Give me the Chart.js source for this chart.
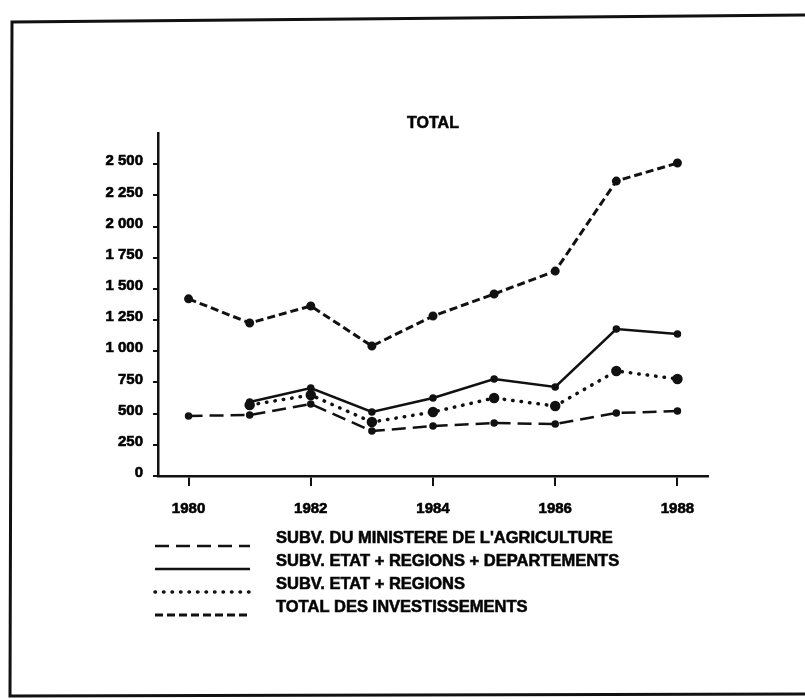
<!DOCTYPE html>
<html>
<head>
<meta charset="utf-8">
<script src="https://cdn.jsdelivr.net/npm/chart.js@4/dist/chart.umd.min.js"></script>
<style>
  html, body { margin: 0; padding: 0; background: #fff; }
</style>
</head>
<body>
<canvas id="chart" width="805" height="699"></canvas>
<script>
const years = ['1980', '1981', '1982', '1983', '1984', '1985', '1986', '1987', '1988'];
const yTickLabels = ['0', '250', '500', '750', '1 000', '1 250', '1 500', '1 750', '2 000', '2 250', '2 500'];
const chartTitle = 'TOTAL';

// values
const subvMinistere = [480, 487, 575, 359, 399, 423, 415, 503, 519];
const subvEtatRegionsDep = [null, 591, 703, 511, 623, 775, 711, 1174, 1134];
const subvEtatRegions = [null, 567, 647, 431, 511, 623, 559, 839, 775];
const totalInvest = [1415, 1222, 1358, 1038, 1278, 1454, 1637, 2356, 2500];

const ink = '#111';
const font = { family: '"Liberation Sans", Arial, sans-serif', weight: 'bold', size: 15 };

// frame, title and the hand-made legend of the original sheet
const paper = {
    id: 'paper',
    afterDraw(chart) {
        const ctx = chart.ctx;
        const area = chart.chartArea;
        ctx.save();
        ctx.strokeStyle = ink;
        ctx.lineWidth = 3;
        ctx.beginPath();
        ctx.moveTo(805, 15);
        ctx.lineTo(12, 22);
        ctx.lineTo(10, 696);
        ctx.lineTo(805, 694);
        ctx.stroke();

        ctx.fillStyle = '#000';
        ctx.lineWidth = 0.6;
        ctx.font = 'bold 16px "Liberation Sans", Arial, sans-serif';
        ctx.textAlign = 'center';
        ctx.textBaseline = 'middle';
        const tx = (area.left + area.right) / 2;
        ctx.fillText(chartTitle, tx, area.top - 9);
        ctx.strokeText(chartTitle, tx, area.top - 9);

        ctx.textAlign = 'left';
        ctx.font = 'bold 16.5px "Liberation Sans", Arial, sans-serif';
        chart.data.datasets.forEach((ds, i) => {
            const y = 538 + i * 23;
            ctx.setLineDash(ds.borderDash || []);
            ctx.lineCap = ds.borderCapStyle || 'butt';
            ctx.lineWidth = ds.borderWidth;
            ctx.beginPath();
            ctx.moveTo(area.left - 3, y + 8);
            ctx.lineTo(area.left + 92, y + 8);
            ctx.stroke();
            ctx.setLineDash([]);
            ctx.lineCap = 'butt';
            ctx.lineWidth = 0.6;
            ctx.fillText(ds.label, area.left + 118, y);
            ctx.strokeText(ds.label, area.left + 118, y);
        });
        ctx.restore();
    }
};

new Chart(document.getElementById('chart'), {
    type: 'line',
    data: {
        labels: years,
        datasets: [{
            label: "SUBV. DU MINISTERE DE L'AGRICULTURE",
            data: subvMinistere,
            borderColor: ink,
            backgroundColor: ink,
            borderWidth: 2.5,
            borderDash: [14, 7],
            pointRadius: 2.5
        }, {
            label: 'SUBV. ETAT + REGIONS + DEPARTEMENTS',
            data: subvEtatRegionsDep,
            borderColor: ink,
            backgroundColor: ink,
            borderWidth: 2.5,
            pointRadius: 2.5
        }, {
            label: 'SUBV. ETAT + REGIONS',
            data: subvEtatRegions,
            borderColor: ink,
            backgroundColor: ink,
            borderWidth: 3.5,
            borderDash: [0.5, 8],
            borderCapStyle: 'round',
            pointRadius: 3.5
        }, {
            label: 'TOTAL DES INVESTISSEMENTS',
            data: totalInvest,
            borderColor: ink,
            backgroundColor: ink,
            borderWidth: 3,
            borderDash: [8, 4],
            pointRadius: 3
        }]
    },
    options: {
        responsive: false,
        animation: false,
        layout: { padding: { left: 98, right: 97, top: 133, bottom: 183 } },
        elements: { line: { tension: 0 }, point: { borderWidth: 0 } },
        plugins: {
            legend: { display: false },
            title: { display: false },
            tooltip: { enabled: false }
        },
        scales: {
            x: {
                type: 'category',
                offset: true,
                afterFit: s => { s.height = 40; },
                border: { color: ink, width: 2.5 },
                grid: { drawOnChartArea: false, color: ink, lineWidth: 2, tickLength: 10 },
                ticks: {
                    autoSkip: false,
                    maxRotation: 0,
                    padding: 14,
                    color: '#000',
                    textStrokeColor: '#000',
                    textStrokeWidth: 0.6,
                    font: font,
                    callback: (v, i) => (i % 2 === 0 ? years[i] : null)
                }
            },
            y: {
                min: 0,
                max: 2740,
                afterFit: s => { s.width = 60; },
                border: { color: ink, width: 2.5 },
                grid: { drawOnChartArea: false, color: ink, lineWidth: 2, tickLength: 5 },
                ticks: {
                    stepSize: 250,
                    includeBounds: false,
                    padding: 10,
                    labelOffset: -3,
                    color: '#000',
                    textStrokeColor: '#000',
                    textStrokeWidth: 0.6,
                    font: font,
                    callback: v => yTickLabels[Math.round(v / 250)]
                }
            }
        }
    },
    plugins: [paper]
});
</script>
</body>
</html>
